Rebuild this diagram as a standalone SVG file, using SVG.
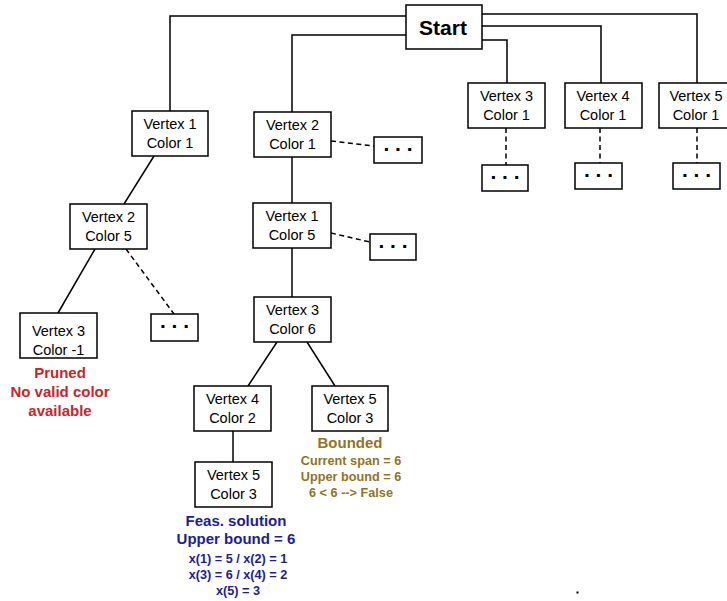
<svg xmlns="http://www.w3.org/2000/svg" width="727" height="601" viewBox="0 0 727 601">
<style>
.box{fill:#fff;stroke:#000;stroke-width:1.5}
.ln{fill:none;stroke:#000;stroke-width:1.5}
.ds{fill:none;stroke:#000;stroke-width:1.5;stroke-dasharray:5 3.5}
.t{font-family:"Liberation Sans",Arial,sans-serif;font-size:14.5px;fill:#000;text-anchor:middle}
.dots{font-family:"Liberation Sans",Arial,sans-serif;font-size:21px;font-weight:bold;fill:#000;text-anchor:middle}
.h{font-family:"Liberation Sans",Arial,sans-serif;font-size:15px;font-weight:bold;text-anchor:middle}
.s{font-family:"Liberation Sans",Arial,sans-serif;font-size:12.7px;font-weight:bold;text-anchor:middle}
.red{fill:#c8242b}.blue{fill:#1c1c9c}.gold{fill:#94731f}
</style>
<rect width="727" height="601" fill="#fff"/>
<g id="connectors">
<polyline class="ln" points="406,16 170,16 170,111"/>
<polyline class="ln" points="406,35 292,35 292,112"/>
<polyline class="ln" points="482,14 697,14 697,83"/>
<polyline class="ln" points="482,26 601,26 601,83"/>
<polyline class="ln" points="482,40 507,40 507,83"/>
<line class="ds" x1="506" y1="128" x2="506" y2="165"/>
<line class="ds" x1="600" y1="128" x2="600" y2="163"/>
<line class="ds" x1="697" y1="128" x2="697" y2="163"/>
<line class="ln" x1="154" y1="156" x2="124" y2="204"/>
<line class="ln" x1="95" y1="249" x2="58" y2="313"/>
<line class="ds" x1="126" y1="249" x2="174" y2="314"/>
<line class="ds" x1="331" y1="141" x2="374" y2="146"/>
<line class="ln" x1="292" y1="157" x2="292" y2="203"/>
<line class="ds" x1="331" y1="233" x2="370" y2="242"/>
<line class="ln" x1="292" y1="248" x2="292" y2="297"/>
<line class="ln" x1="277" y1="342" x2="248" y2="386"/>
<line class="ln" x1="307" y1="342" x2="335" y2="386"/>
<line class="ln" x1="233" y1="431" x2="233" y2="462"/>
</g>
<g id="start">
<rect class="box" x="406" y="5" width="76" height="44"/>
<text x="443" y="35" font-family="Liberation Sans,Arial,sans-serif" font-size="21" font-weight="bold" text-anchor="middle">Start</text>
</g>
<g id="v1c1">
<rect class="box" x="132" y="111" width="76" height="45"/>
<text class="t" x="170" y="128.5">Vertex 1</text><text class="t" x="170" y="147.5">Color 1</text>
</g>
<g id="v2c1">
<rect class="box" x="254" y="112" width="77" height="45"/>
<text class="t" x="292.5" y="129.5">Vertex 2</text><text class="t" x="292.5" y="148.5">Color 1</text>
</g>
<g id="v3c1">
<rect class="box" x="468" y="83" width="77" height="45"/>
<text class="t" x="506.5" y="100.5">Vertex 3</text><text class="t" x="506.5" y="119.5">Color 1</text>
</g>
<g id="v4c1">
<rect class="box" x="565" y="83" width="77" height="45"/>
<text class="t" x="603" y="100.5">Vertex 4</text><text class="t" x="603" y="119.5">Color 1</text>
</g>
<g id="v5c1">
<rect class="box" x="659" y="83" width="77" height="45"/>
<text class="t" x="696" y="100.5">Vertex 5</text><text class="t" x="696" y="119.5">Color 1</text>
</g>
<g id="dots-v3c1"><rect class="box" x="482" y="165" width="46" height="26"/><text class="dots" x="505" y="178.5">. . .</text></g>
<g id="dots-v4c1"><rect class="box" x="575" y="163" width="47" height="26"/><text class="dots" x="598.5" y="176.5">. . .</text></g>
<g id="dots-v5c1"><rect class="box" x="673" y="163" width="47" height="26"/><text class="dots" x="696.5" y="176.5">. . .</text></g>
<g id="dots-v2c1"><rect class="box" x="374" y="137" width="48" height="26"/><text class="dots" x="398" y="150.5">. . .</text></g>
<g id="v2c5">
<rect class="box" x="70" y="204" width="77" height="45"/>
<text class="t" x="108.5" y="221.5">Vertex 2</text><text class="t" x="108.5" y="240.5">Color 5</text>
</g>
<g id="v1c5">
<rect class="box" x="253" y="203" width="78" height="45"/>
<text class="t" x="292" y="220.5">Vertex 1</text><text class="t" x="292" y="239.5">Color 5</text>
</g>
<g id="dots-v1c5"><rect class="box" x="370" y="234" width="46" height="26"/><text class="dots" x="393" y="247.5">. . .</text></g>
<g id="v3cm1">
<rect class="box" x="20" y="313" width="77" height="45"/>
<text class="t" x="58.5" y="335.5">Vertex 3</text><text class="t" x="58.5" y="354.5">Color -1</text>
<text class="h red" x="60" y="378">Pruned</text>
<text class="h red" x="60" y="397">No valid color</text>
<text class="h red" x="60" y="416">available</text>
</g>
<g id="dots-v2c5"><rect class="box" x="151" y="314" width="47" height="27"/><text class="dots" x="174.5" y="328">. . .</text></g>
<g id="v3c6">
<rect class="box" x="254" y="297" width="77" height="45"/>
<text class="t" x="292.5" y="314.5">Vertex 3</text><text class="t" x="292.5" y="333.5">Color 6</text>
</g>
<g id="v4c2">
<rect class="box" x="194" y="386" width="77" height="45"/>
<text class="t" x="232.5" y="403.5">Vertex 4</text><text class="t" x="232.5" y="422.5">Color 2</text>
</g>
<g id="v5c3-bounded">
<rect class="box" x="312" y="386" width="76" height="45"/>
<text class="t" x="350" y="403.5">Vertex 5</text><text class="t" x="350" y="422.5">Color 3</text>
<text class="h gold" x="350" y="448">Bounded</text>
<text class="s gold" x="351" y="465">Current span = 6</text>
<text class="s gold" x="351" y="481">Upper bound = 6</text>
<text class="s gold" x="351" y="497">6 &lt; 6 --&gt; False</text>
</g>
<g id="v5c3-feasible">
<rect class="box" x="195" y="462" width="77" height="45"/>
<text class="t" x="233.5" y="479.5">Vertex 5</text><text class="t" x="233.5" y="498.5">Color 3</text>
<text class="h blue" x="236" y="526">Feas. solution</text>
<text class="h blue" x="236" y="544">Upper bound = 6</text>
<text class="s blue" x="238" y="563">x(1) = 5 / x(2) = 1</text>
<text class="s blue" x="238" y="579">x(3) = 6 / x(4) = 2</text>
<text class="s blue" x="238" y="595">x(5) = 3</text>
</g>
<rect x="576.5" y="591.5" width="2" height="2" fill="#000"/>
</svg>
